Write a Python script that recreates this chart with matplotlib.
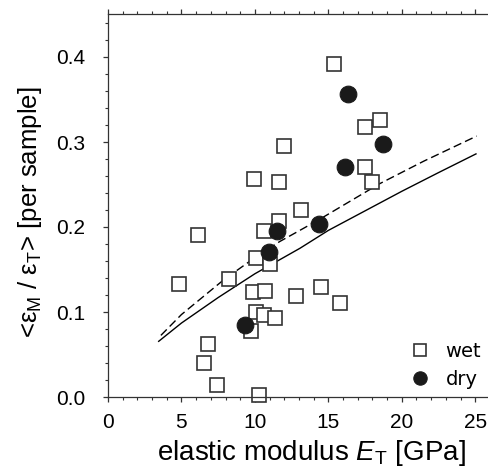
import matplotlib
matplotlib.use("Agg")
import matplotlib.pyplot as plt
from matplotlib.ticker import MultipleLocator

plt.rcParams['font.family'] = ['Liberation Sans', 'DejaVu Sans']
plt.rcParams['mathtext.fontset'] = 'custom'
plt.rcParams['mathtext.rm'] = 'Liberation Sans'
plt.rcParams['mathtext.it'] = 'Liberation Sans:italic'

# wet samples (squares)
wet_E = [15.36, 18.51, 17.49, 12.0, 17.49, 9.96, 11.66, 17.99, 13.16, 11.66,
         10.64, 6.10, 10.07, 11.03, 8.26, 4.85, 9.85, 10.66, 14.52, 12.79,
         15.77, 10.07, 10.62, 11.39, 9.73, 6.83, 6.51, 7.44, 10.25]
wet_r = [0.392, 0.326, 0.318, 0.295, 0.271, 0.257, 0.253, 0.253, 0.220, 0.207,
         0.195, 0.191, 0.164, 0.156, 0.139, 0.133, 0.124, 0.125, 0.129, 0.119,
         0.111, 0.100, 0.096, 0.093, 0.078, 0.062, 0.040, 0.014, 0.002]

# dry samples (circles)
dry_E = [16.31, 18.74, 16.13, 14.34, 11.48, 10.98, 9.32]
dry_r = [0.357, 0.298, 0.271, 0.203, 0.195, 0.171, 0.085]

# model curves
solid_E = [3.45, 5.0, 7.5, 10.0, 13.07, 15.0, 17.5, 20.0, 22.5, 25.05]
solid_r = [0.0655, 0.087, 0.117, 0.145, 0.175, 0.196, 0.219, 0.242, 0.264, 0.286]
dash_E = [3.6, 5.0, 7.85, 10.0, 11.7, 12.85, 14.4, 18.5, 21.5, 25.1]
dash_r = [0.0725, 0.097, 0.1375, 0.164, 0.183, 0.194, 0.209, 0.251, 0.2775, 0.307]

xticks = [0, 5, 10, 15, 20, 25]
yticks = [0.0, 0.1, 0.2, 0.3, 0.4]

W, H = 489, 469
fig = plt.figure(figsize=(W/100, H/100), dpi=100)
ax = fig.add_axes([108/W, 1-397/H, 1-108/W, (397-14)/H])

ax.plot(solid_E, solid_r, color='black', lw=1.0)
ax.plot(dash_E, dash_r, color='black', lw=1.0, dashes=(6, 3))
ax.plot(wet_E, wet_r, ls='none', marker='s', ms=10, mfc='white', mec='#333333', mew=1.2,
        label='wet', clip_on=False)
ax.plot(dry_E, dry_r, ls='none', marker='o', ms=12, mfc='#1a1a1a', mec='#1a1a1a', mew=0.8,
        label='dry', clip_on=False)

ax.set_xlim(0, (W-108)/14.69)
ax.set_ylim(0, (397-14)/850)
ax.xaxis.set_minor_locator(MultipleLocator(1))
ax.yaxis.set_minor_locator(MultipleLocator(0.02))
ax.set_xticks(xticks)
ax.set_xticklabels([str(v) for v in xticks])
ax.set_yticks(yticks)
ax.set_yticklabels([f'{v:.1f}' for v in yticks])
ax.tick_params(which='major', direction='out', length=3.6, width=0.9, color='#333333',
               labelsize=15, top=True)
ax.tick_params(axis='x', which='major', pad=8)
ax.tick_params(axis='y', which='major', pad=13)
ax.tick_params(which='minor', direction='out', length=2.2, width=0.8, color='#333333', top=True)
ax.spines['right'].set_visible(False)
for s in ['left', 'bottom', 'top']:
    ax.spines[s].set_linewidth(0.9)
    ax.spines[s].set_color('#333333')

fig.text(311/W, 1-460/H, r'elastic modulus $E_{\rm T}$ [GPa]', fontsize=20,
         ha='center', va='baseline')
fig.text(30/W, 1-212/H, r'<ε$_{\rm M}$ / ε$_{\rm T}$> [per sample]', fontsize=18.5,
         rotation=90, ha='center', va='center')

leg = ax.legend(loc='lower right', bbox_to_anchor=((489-108)/381, 0.0),
                frameon=False, handlelength=0.8, handletextpad=0.9,
                labelspacing=0.5, markerscale=0.8, borderaxespad=0,
                prop={'family': 'DejaVu Sans', 'size': 14})

fig.savefig('out.png', dpi=100)
